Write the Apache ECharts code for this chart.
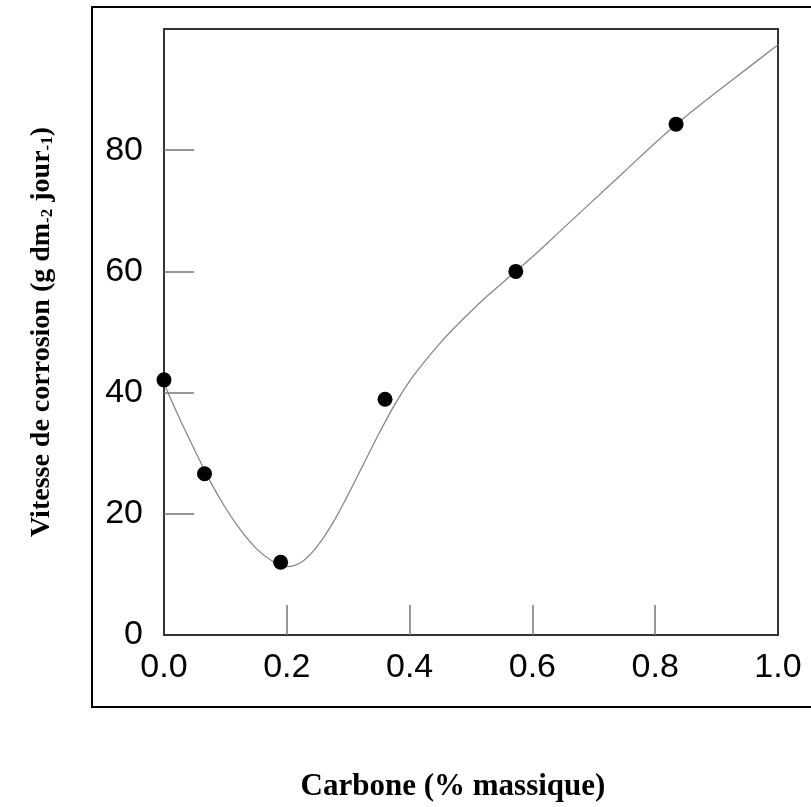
<!DOCTYPE html>
<html>
<head>
<meta charset="utf-8">
<script src="https://cdn.jsdelivr.net/npm/echarts@6/dist/echarts.min.js"></script>
<style>html,body{margin:0;padding:0;background:#fff}#c{width:811px;height:807px}</style>
</head>
<body>
<div id="c"></div>
<script>
// Measured points
const pointX = [0.0, 0.066, 0.190, 0.360, 0.573, 0.834];
const pointY = [42.1, 26.6, 12.0, 38.9, 60.0, 84.3];
// Fitted curve
const curveX = [0.0, 0.025, 0.05, 0.075, 0.10, 0.125, 0.15, 0.175, 0.20, 0.225, 0.25, 0.275, 0.30, 0.325, 0.35, 0.375, 0.40, 0.425, 0.45, 0.475, 0.50, 0.525, 0.55, 0.575, 0.60, 0.65, 0.70, 0.75, 0.80, 0.85, 0.90, 0.95, 1.0];
const curveY = [41.5, 35.8, 30.5, 25.4, 21.0, 17.3, 14.3, 12.3, 11.3, 12.1, 14.7, 18.5, 23.2, 28.2, 33.2, 37.9, 41.9, 45.2, 48.2, 50.9, 53.4, 55.8, 58.0, 60.2, 62.4, 67.1, 71.8, 76.5, 81.2, 85.6, 89.6, 93.5, 97.4];
const xTickValues = [0.0, 0.2, 0.4, 0.6, 0.8, 1.0];
const xTickLabels = ['0.0', '0.2', '0.4', '0.6', '0.8', '1.0'];
const yTickValues = [0, 20, 40, 60, 80];
const yTickLabels = ['0', '20', '40', '60', '80'];

const chart = echarts.init(document.getElementById('c'), null, {renderer: 'canvas'});
const curveData = curveX.map((x, i) => [x, curveY[i]]);
const pointData = pointX.map((x, i) => [x, pointY[i]]);
const labelOf = (vals, labels) => (v) => {
  const i = vals.findIndex(t => Math.abs(t - v) < 1e-6);
  return i >= 0 ? labels[i] : '';
};

chart.setOption({
  animation: false,
  backgroundColor: '#fff',
  graphic: [{
    type: 'rect',
    shape: {x: 92, y: 7, width: 760, height: 700},
    style: {fill: 'none', stroke: '#000', lineWidth: 2},
    silent: true, z: -1
  }],
  grid: {
    left: 164, top: 29, width: 614, height: 612,
    show: true, borderColor: '#333', borderWidth: 2, backgroundColor: 'transparent'
  },
  xAxis: {
    type: 'value', min: 0, max: 1, interval: 0.2,
    name: 'Carbone (% massique)',
    nameLocation: 'middle', nameGap: 136,
    nameTextStyle: {fontFamily: 'Liberation Serif', fontWeight: 'bold', fontSize: 31, color: '#000', padding: [0, 36, 0, 0]},
    axisLine: {show: true, lineStyle: {color: '#333', width: 2}},
    axisTick: {show: true, inside: true, length: 30, customValues: xTickValues.slice(1, -1), lineStyle: {color: '#777', width: 1.5}},
    splitLine: {show: false},
    axisLabel: {
      margin: 16, fontFamily: 'Liberation Sans', fontSize: 34, color: '#000',
      customValues: xTickValues,
      formatter: labelOf(xTickValues, xTickLabels)
    }
  },
  yAxis: {
    type: 'value', min: 0, max: 100, interval: 20,
    name: 'Vitesse de corrosion (g dm{s|-2} jour{s|-1})',
    nameLocation: 'middle', nameGap: 108, nameRotate: 90,
    nameTextStyle: {
      fontFamily: 'Liberation Serif', fontWeight: 'bold', fontSize: 28, color: '#000',
      rich: {s: {fontFamily: 'Liberation Serif', fontWeight: 'bold', fontSize: 17, color: '#000', verticalAlign: 'bottom', padding: [8, 0, 0, 0]}}
    },
    axisLine: {show: true, lineStyle: {color: '#333', width: 2}},
    axisTick: {show: true, inside: true, length: 30, customValues: yTickValues.slice(1), lineStyle: {color: '#777', width: 1.5}},
    splitLine: {show: false},
    axisLabel: {
      margin: 21, fontFamily: 'Liberation Sans', fontSize: 34, color: '#000',
      customValues: yTickValues,
      formatter: labelOf(yTickValues, yTickLabels)
    }
  },
  series: [
    {
      type: 'line', data: curveData, smooth: 0.35, showSymbol: false,
      lineStyle: {color: '#888', width: 1.3}, z: 2
    },
    {
      type: 'scatter', data: pointData, symbol: 'circle', symbolSize: 15,
      itemStyle: {color: '#000', opacity: 1}, z: 3
    }
  ]
});
</script>
</body>
</html>
